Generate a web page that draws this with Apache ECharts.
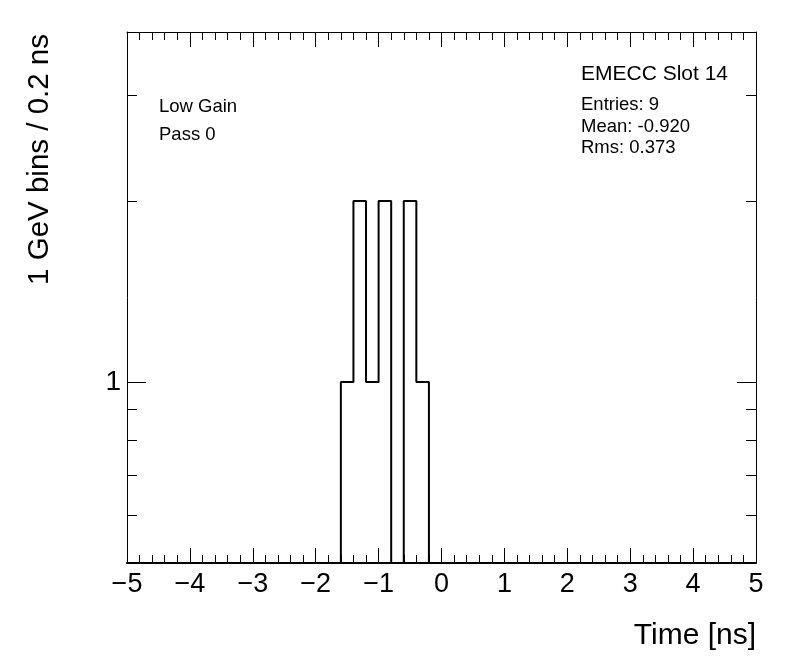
<!DOCTYPE html>
<html>
<head>
<meta charset="utf-8">
<script src="https://cdn.jsdelivr.net/npm/echarts@6/dist/echarts.min.js"></script>
<style>html,body{margin:0;padding:0;background:#fff;}#c{width:796px;height:672px;}</style>
</head>
<body>
<div id="c"></div>
<script>
// ---- data ----
const binStarts = [-1.6, -1.4, -1.2, -1.0, -0.8, -0.6, -0.4];
const binWidth = 0.2;
const counts = [1, 2, 1, 2, 0, 2, 1];
const xRange = [-5, 5];
const yRange = [0.5, 3.82];
const yMajorTicks = [1];
const yMinorTicks = [0.6, 0.7, 0.8, 0.9, 2, 3];
const title = 'EMECC Slot 14';
const statsLines = ['Entries: 9', 'Mean: -0.920', 'Rms: 0.373'];
const infoLines = ['Low Gain', 'Pass 0'];
const xTitle = 'Time [ns]';
const yTitle = '1 GeV bins / 0.2 ns';

// ---- build ----
const FONT = 'Liberation Sans, Arial, Helvetica, sans-serif';
const lg = v => Math.log10(v);
const yMin = lg(yRange[0]), yMax = lg(yRange[1]);
const pts = [[binStarts[0], yMin]];
binStarts.forEach((s, i) => {
  const y = counts[i] > 0 ? lg(counts[i]) : yMin;
  pts.push([s, y]);
  pts.push([s + binWidth, y]);
});
pts.push([binStarts[binStarts.length - 1] + binWidth, yMin]);

const black = '#000';
function xAx(pos, labels, lw) {
  return {
    type: 'value', position: pos, min: xRange[0], max: xRange[1], interval: 1,
    axisLine: {show: true, onZero: false, lineStyle: {color: black, width: lw}},
    axisTick: {show: true, inside: true, length: 15, lineStyle: {color: black, width: 1}},
    minorTick: {show: true, splitNumber: 5, length: 8, lineStyle: {color: black, width: 1}},
    splitLine: {show: false}, minorSplitLine: {show: false},
    axisLabel: {show: labels, color: black, fontSize: 27, fontFamily: FONT, margin: 8,
      formatter: v => String(v).replace('-', '\u2212')}
  };
}
function yAx(pos, vals, len, labels, line) {
  return {
    type: 'value', position: pos, min: yMin, max: yMax,
    axisLine: {show: line, onZero: false, lineStyle: {color: black, width: 1}},
    axisTick: {show: true, inside: true, length: len, customValues: vals.map(lg), lineStyle: {color: black, width: 1}},
    splitLine: {show: false},
    axisLabel: {show: labels, customValues: vals.map(lg), color: black, fontSize: 28, fontFamily: FONT, margin: 6,
      formatter: v => String(Math.round(Math.pow(10, v) * 100) / 100)}
  };
}

const texts = [
  {type: 'text', x: 581, y: 74, style: {text: title, font: '21px ' + FONT, fill: black, verticalAlign: 'middle'}}
];
const statsY = [105, 127, 148];
statsLines.forEach((t, i) => texts.push({type: 'text', x: 581, y: statsY[i], style: {text: t, font: '18.5px ' + FONT, fill: black, verticalAlign: 'middle'}}));
const infoY = [107, 135];
infoLines.forEach((t, i) => texts.push({type: 'text', x: 159, y: infoY[i], style: {text: t, font: '18.5px ' + FONT, fill: black, verticalAlign: 'middle'}}));
texts.push({type: 'text', x: 756, y: 636, style: {text: xTitle, font: '30px ' + FONT, fill: black, align: 'right', verticalAlign: 'middle'}});
texts.push({type: 'text', x: 40, y: 34, rotation: Math.PI / 2, style: {text: yTitle, font: '29.5px ' + FONT, fill: black, align: 'right', verticalAlign: 'middle'}});

const chart = echarts.init(document.getElementById('c'), null, {renderer: 'canvas'});
chart.setOption({
  animation: false,
  backgroundColor: '#fff',
  grid: {left: 127, top: 32, width: 629, height: 531, containLabel: false},
  xAxis: [xAx('bottom', true, 2), xAx('top', false, 1)],
  yAxis: [
    yAx('left', yMajorTicks, 19, true, true),
    yAx('left', yMinorTicks, 10, false, false),
    yAx('right', yMajorTicks, 19, false, true),
    yAx('right', yMinorTicks, 10, false, false)
  ],
  series: [{
    type: 'line', xAxisIndex: 0, yAxisIndex: 0, data: pts,
    showSymbol: false, symbol: 'none', clip: true,
    lineStyle: {color: black, width: 2}
  }],
  graphic: texts
});
</script>
</body>
</html>
